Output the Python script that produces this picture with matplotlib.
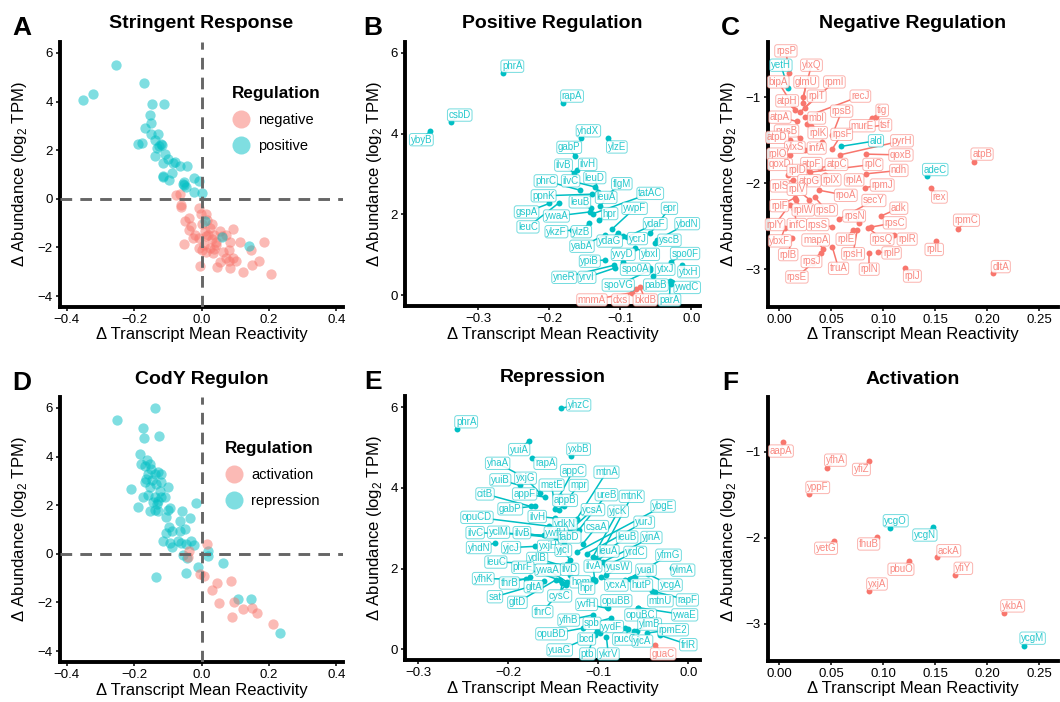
import numpy as np
import matplotlib.pyplot as plt
from matplotlib.lines import Line2D
from matplotlib.colors import to_rgba

plt.rcParams['font.family'] = ['Liberation Sans', 'DejaVu Sans']
plt.rcParams['mathtext.fontset'] = 'custom'
plt.rcParams['mathtext.rm'] = 'Liberation Sans'

RED = '#F8766D'
TEAL = '#00BFC4'
W, H = 1060, 702

# ---------------- Panel A: stringent response ----------------
A_pos_x = [-0.353, -0.323, -0.253, -0.171, -0.146, -0.110, -0.154, -0.151, -0.169, -0.149,
           -0.128, -0.189, -0.176, -0.137, -0.131, -0.121, -0.126, -0.137, -0.114, -0.099,
           -0.084, -0.079, -0.109, -0.065, -0.043, -0.089, -0.114, -0.097, -0.051, -0.051,
           -0.023, -0.008, -0.046, -0.023, 0.002, 0.010, 0.060, 0.141, -0.118, -0.113, -0.055]
A_pos_y = [4.07, 4.30, 5.52, 4.77, 3.89, 3.89, 3.44, 3.10, 2.93, 2.68,
           2.68, 2.27, 2.30, 2.41, 2.10, 2.24, 2.18, 1.78, 1.49, 1.65,
           1.47, 1.52, 1.85, 1.33, 1.34, 1.08, 0.93, 0.79, 0.68, 0.58,
           0.86, 0.75, 0.50, 0.30, 0.22, -0.91, -1.56, -1.95, 2.20, 0.88, 0.62]
A_neg_x = [-0.077, -0.063, -0.061, -0.060, -0.038, -0.048, -0.030, -0.038, -0.008, -0.002,
           0.012, 0.017, 0.024, 0.032, 0.010, -0.018, -0.025, -0.008, 0.014, 0.032,
           0.044, 0.054, 0.073, 0.093, 0.085, -0.053, 0.002, 0.014, 0.024, 0.034,
           0.038, 0.044, -0.003, 0.047, 0.054, 0.073, 0.083, 0.093, 0.085, 0.101,
           0.113, 0.083, 0.123, 0.148, 0.151, 0.171, 0.186, 0.206, 0.020, 0.002,
           0.060, 0.037, 0.007, -0.008, 0.064]
A_neg_y = [0.14, 0.19, -0.25, -0.33, -0.77, -0.91, -1.12, -1.30, -0.39, -0.64,
           -0.64, -0.89, -1.19, -1.02, -1.33, -1.47, -1.63, -1.63, -1.55, -1.67,
           -1.77, -1.33, -1.47, -1.26, -1.77, -1.85, -2.10, -2.19, -2.02, -2.23,
           -2.05, -1.91, -2.78, -2.82, -2.60, -2.43, -2.57, -2.43, -2.85, -2.57,
           -1.77, -2.09, -2.99, -2.09, -2.71, -2.54, -1.77, -3.08, -1.47, -1.05,
           -1.55, -1.47, -1.88, -2.02, -2.19]

# ---------------- Panel B: positive regulation ----------------
B_genes = ['phrA', 'rapA', 'csbD', 'ybyB', 'yhdX', 'ylzE', 'gabP', 'ilvH', 'ilvB', 'phrC',
           'ilvC', 'leuD', 'flgM', 'ppnK', 'leuA', 'tatAC', 'leuB', 'gspA', 'ywaA', 'hpr',
           'ywpF', 'epr', 'leuC', 'ykzF', 'ylzB', 'ydaF', 'ybdN', 'ycrJ', 'yscB', 'yabA',
           'ydaG', 'ybxI', 'spo0F', 'yvyD', 'ypiB', 'ytxH', 'ytxJ', 'spo0A', 'yneR', 'yrvI',
           'spoVG', 'pabB', 'ywdC', 'parA', 'mnmA', 'dxs', 'bkdB']
B_x = [-0.265, -0.181, -0.338, -0.368, -0.155, -0.118, -0.164, -0.161, -0.165, -0.157,
       -0.136, -0.131, -0.119, -0.140, -0.128, -0.138, -0.142, -0.200, -0.143, -0.130,
       -0.112, -0.058, -0.186, -0.168, -0.144, -0.091, -0.048, -0.096, -0.052, -0.122,
       -0.104, -0.080, -0.029, -0.097, -0.122, -0.014, -0.054, -0.058, -0.109, -0.108,
       -0.058, -0.028, -0.029, -0.030, -0.084, -0.078, -0.072]
B_y = [5.49, 4.75, 4.29, 4.06, 3.88, 3.89, 3.45, 3.09, 3.02, 2.60,
       2.68, 2.55, 2.48, 2.50, 2.20, 2.02, 2.15, 2.27, 2.06, 1.86,
       1.63, 1.53, 2.29, 1.61, 1.79, 1.44, 1.37, 1.47, 1.30, 1.49,
       1.54, 1.17, 0.82, 0.82, 0.87, 0.74, 0.47, 0.66, 0.74, 0.67,
       0.62, 0.33, 0.27, 0.36, 0.06, 0.14, 0.19]
B_reg = ['pos'] * 44 + ['neg'] * 3
# label placement (repelled text positions)
B_lx = [-0.252, -0.168, -0.326, -0.380, -0.145, -0.105, -0.172, -0.146, -0.180, -0.205,
        -0.170, -0.136, -0.098, -0.208, -0.120, -0.058, -0.157, -0.232, -0.190, -0.115,
        -0.080, -0.031, -0.230, -0.190, -0.155, -0.051, -0.006, -0.076, -0.031, -0.154,
        -0.115, -0.059, -0.009, -0.096, -0.143, -0.004, -0.037, -0.079, -0.179, -0.147,
        -0.103, -0.050, -0.006, -0.031, -0.140, -0.100, -0.065]
B_ly = [5.67, 4.93, 4.46, 3.85, 4.07, 3.67, 3.66, 3.24, 3.22, 2.83,
        2.83, 2.91, 2.76, 2.46, 2.42, 2.52, 2.31, 2.06, 1.96, 2.02,
        2.15, 2.15, 1.69, 1.57, 1.57, 1.77, 1.77, 1.40, 1.36, 1.21,
        1.34, 1.01, 1.03, 1.01, 0.84, 0.58, 0.64, 0.64, 0.44, 0.44,
        0.25, 0.25, 0.19, -0.12, -0.12, -0.12, -0.12]

# ---------------- Panel C: negative regulation ----------------
C_genes = ['rpsP', 'yetH', 'ylxQ', 'bipA', 'glmU', 'rpmI', 'atpH', 'rplT', 'recJ', 'atpA',
           'mbl', 'rpsB', 'tig', 'nusB', 'rplK', 'murE', 'tsf', 'rpsF', 'atpD', 'ald',
           'pyrH', 'ylxS', 'infA', 'rplO', 'qoxB', 'qoxD', 'atpF', 'atpC', 'rplC', 'atpB',
           'rplD', 'ndh', 'adeC', 'rplS', 'atpG', 'rplX', 'rplA', 'rpmJ', 'rex', 'rplV',
           'rpoA', 'rplF', 'rplW', 'rpsD', 'secY', 'adk', 'rpsN', 'rpsC', 'rpmC', 'rplY',
           'infC', 'rpsS', 'ybxF', 'mapA', 'rplE', 'rpsQ', 'rplR', 'rplL', 'rplB', 'rpsH',
           'rplP', 'rpsJ', 'truA', 'rplN', 'rplJ', 'dltA', 'rpsE']
C_x = [0.0095, 0.0086, 0.023, 0.013, 0.0226, 0.020, 0.015, 0.0245, 0.0245, 0.017,
       0.027, 0.051, 0.093, 0.020, 0.031, 0.089, 0.083, 0.051, 0.010, 0.0595,
       0.058, 0.0245, 0.041, 0.010, 0.083, 0.015, 0.027, 0.039, 0.030, 0.187,
       0.008, 0.083, 0.1425, 0.013, 0.037, 0.0436, 0.0655, 0.082, 0.146, 0.029,
       0.038, 0.015, 0.016, 0.034, 0.057, 0.098, 0.077, 0.088, 0.172, 0.010,
       0.014, 0.051, 0.0055, 0.042, 0.071, 0.0856, 0.110, 0.151, 0.012, 0.075,
       0.095, 0.040, 0.051, 0.0865, 0.121, 0.2055, 0.032]
C_y = [-0.72, -0.895, -0.99, -1.09, -1.07, -1.17, -1.15, -1.12, -1.23, -1.28,
       -1.31, -1.44, -1.23, -1.47, -1.33, -1.24, -1.35, -1.60, -1.50, -1.57,
       -1.67, -1.61, -1.52, -1.67, -1.66, -1.82, -1.85, -1.82, -1.87, -1.75,
       -1.90, -1.89, -1.92, -1.96, -1.94, -1.90, -1.94, -2.05, -2.06, -2.19,
       -2.08, -2.17, -2.20, -2.16, -2.42, -2.38, -2.465, -2.51, -2.535, -2.25,
       -2.30, -2.505, -2.52, -2.76, -2.54, -2.52, -2.60, -2.67, -2.64, -2.54,
       -2.80, -2.81, -2.74, -2.81, -2.99, -3.04, -2.93]
C_reg = ['neg'] * len(C_genes)
for i in (1, 19, 32):
    C_reg[i] = 'pos'
C_lx = [0.0064, 0.0016, 0.031, -0.001, 0.026, 0.053, 0.0076, 0.036, 0.078, 0.0007,
        0.036, 0.060, 0.099, 0.007, 0.037, 0.080, 0.102, 0.060, -0.002, 0.093,
        0.118, 0.015, 0.036, -0.002, 0.117, 0.0007, 0.031, 0.055, 0.090, 0.195,
        0.017, 0.115, 0.150, 0.0007, 0.029, 0.050, 0.072, 0.099, 0.154, 0.017,
        0.064, 0.000, 0.023, 0.045, 0.091, 0.115, 0.072, 0.111, 0.180, -0.004,
        0.017, 0.037, 0.0007, 0.035, 0.064, 0.099, 0.123, 0.149, 0.0086, 0.071,
        0.108, 0.031, 0.057, 0.0865, 0.128, 0.213, 0.017]
C_ly = [-0.458, -0.625, -0.625, -0.82, -0.82, -0.82, -1.04, -0.985, -0.985, -1.23,
        -1.24, -1.16, -1.15, -1.39, -1.41, -1.33, -1.32, -1.43, -1.465, -1.505,
        -1.505, -1.58, -1.59, -1.66, -1.67, -1.78, -1.77, -1.78, -1.78, -1.66,
        -1.85, -1.85, -1.84, -2.03, -1.97, -1.96, -1.96, -2.02, -2.16, -2.07,
        -2.14, -2.26, -2.31, -2.31, -2.20, -2.29, -2.38, -2.46, -2.43, -2.48,
        -2.48, -2.48, -2.67, -2.66, -2.65, -2.65, -2.65, -2.77, -2.83, -2.82,
        -2.81, -2.91, -2.99, -3.00, -3.08, -2.97, -3.09]

# ---------------- Panel D: CodY regulon ----------------
D_rep_x = [-0.252, -0.137, -0.174, -0.171, -0.127, -0.182, -0.161, -0.179, -0.169, -0.154,
           -0.149, -0.139, -0.129, -0.119, -0.164, -0.147, -0.154, -0.169, -0.134, -0.119,
           -0.099, -0.210, -0.174, -0.159, -0.139, -0.129, -0.119, -0.131, -0.109, -0.189,
           -0.154, -0.139, -0.129, -0.099, -0.094, -0.058, -0.016, -0.104, -0.033, -0.063,
           -0.097, -0.089, -0.104, -0.063, -0.048, -0.114, -0.094, -0.089, -0.069, -0.061,
           -0.046, -0.030, -0.023, -0.055, -0.043, -0.046, -0.134, -0.010, 0.020, 0.020,
           0.065, 0.108, 0.148, 0.234, -0.144, -0.124, -0.158]
D_rep_y = [5.52, 6.00, 5.19, 4.76, 4.83, 4.09, 3.87, 3.70, 3.63, 3.70,
           3.49, 3.29, 3.35, 3.29, 3.08, 3.02, 2.74, 2.94, 2.87, 2.94,
           2.74, 2.67, 2.32, 2.43, 2.32, 2.19, 2.32, 2.05, 2.35, 1.94,
           1.77, 1.80, 1.77, 1.80, 1.88, 1.77, 2.08, 1.50, 1.47, 1.33,
           1.11, 0.95, 0.84, 0.92, 1.02, 0.54, 0.43, 0.29, 0.54, 0.43,
           0.40, 0.51, 0.36, -0.04, -0.18, -0.77, -0.95, -0.54, 0.10, -0.08,
           -0.36, -1.87, -1.87, -3.25, 2.15, 2.60, 3.30]
D_act_x = [-0.036, -0.040, 0.017, -0.003, 0.007, 0.030, 0.047, 0.088, 0.052, 0.096,
           0.091, 0.123, 0.150, 0.166, 0.212]
D_act_y = [0.10, -0.12, 0.40, -0.81, -0.91, -1.50, -1.18, -1.11, -2.04, -1.97,
           -2.60, -2.26, -2.21, -2.42, -2.87]

# ---------------- Panel E: repression ----------------
E_genes = ['yhzC', 'phrA', 'yuiA', 'yxbB', 'rapA', 'yhaA', 'appC', 'mtnA', 'yuiB', 'yxjG',
           'metE', 'mpr', 'citB', 'appF', 'appB', 'ureB', 'mtnK', 'gabP', 'ilvH', 'ycsA',
           'yjcK', 'ybgE', 'opuCD', 'ydkN', 'csaA', 'yurJ', 'ilvC', 'yclM', 'ilvB', 'ywfH',
           'fabD', 'leuB', 'yjnA', 'yhdN', 'yjcJ', 'yxjH', 'yjcI', 'leuA', 'yrdC', 'yfmG',
           'leuC', 'ydlB', 'phrF', 'ywaA', 'ilvD', 'ilvA', 'yusW', 'yuaI', 'ylmA', 'yfhK',
           'thrB', 'gltA', 'sat', 'gltD', 'cysC', 'thrC', 'hom', 'hpr', 'ycxA', 'hutP',
           'ycgA', 'mtnU', 'rapF', 'yvfH', 'opuBB', 'opuBC', 'ywaE', 'yfhB', 'spb', 'yydF',
           'ylmB', 'rpmE2', 'opuBD', 'bcd', 'pucG', 'yjcA', 'frlR', 'yuaG', 'ptb', 'ykrV',
           'guaC']
E_x = [-0.141, -0.257, -0.177, -0.130, -0.174, -0.188, -0.143, -0.124, -0.187, -0.165,
       -0.148, -0.144, -0.175, -0.159, -0.138, -0.122, -0.095, -0.170, -0.148, -0.128,
       -0.106, -0.124, -0.155, -0.132, -0.117, -0.113, -0.160, -0.147, -0.140, -0.142,
       -0.138, -0.104, -0.095, -0.215, -0.170, -0.142, -0.131, -0.100, -0.091, -0.065,
       -0.135, -0.137, -0.143, -0.135, -0.131, -0.104, -0.091, -0.070, -0.018, -0.180,
       -0.176, -0.160, -0.165, -0.147, -0.140, -0.136, -0.106, -0.104, -0.097, -0.059,
       -0.045, -0.037, -0.040, -0.089, -0.090, -0.056, -0.056, -0.106, -0.086, -0.070,
       -0.057, -0.046, -0.117, -0.102, -0.067, -0.060, -0.031, -0.098, -0.104, -0.091,
       -0.037]
E_y = [5.98, 5.47, 5.17, 4.80, 4.74, 4.33, 3.81, 3.23, 4.06, 3.87,
       3.48, 3.44, 3.54, 3.77, 3.55, 2.95, 2.45, 3.55, 3.25, 3.02,
       2.29, 2.41, 3.05, 2.90, 2.62, 2.37, 2.83, 2.76, 2.72, 2.98,
       2.60, 2.25, 2.16, 2.63, 2.55, 2.45, 2.20, 2.20, 2.08, 1.75,
       2.10, 2.05, 1.71, 1.67, 1.85, 1.71, 1.83, 1.72, 2.02, 1.73,
       1.78, 1.69, 1.62, 1.72, 1.65, 1.60, 1.75, 1.69, 1.78, 1.79,
       1.86, 1.42, 1.44, 1.01, 1.05, 1.01, 1.03, 0.85, 0.77, 0.52,
       0.45, 0.40, 0.52, 0.44, 0.50, 0.46, 0.34, 0.40, 0.35, 0.29,
       0.11]
E_reg = ['pos'] * 80 + ['neg']
E_lx = [-0.122, -0.247, -0.188, -0.122, -0.159, -0.212, -0.128, -0.091, -0.209, -0.181,
        -0.152, -0.122, -0.226, -0.182, -0.137, -0.091, -0.063, -0.198, -0.168, -0.106,
        -0.078, -0.028, -0.235, -0.137, -0.102, -0.049, -0.237, -0.211, -0.185, -0.147,
        -0.132, -0.068, -0.041, -0.233, -0.197, -0.156, -0.139, -0.089, -0.059, -0.022,
        -0.214, -0.168, -0.184, -0.156, -0.132, -0.106, -0.078, -0.047, -0.006, -0.228,
        -0.199, -0.172, -0.215, -0.190, -0.143, -0.162, -0.120, -0.113, -0.080, -0.052,
        -0.020, -0.031, -0.001, -0.113, -0.080, -0.053, -0.004, -0.133, -0.107, -0.085,
        -0.043, -0.017, -0.152, -0.113, -0.070, -0.051, 0.000, -0.143, -0.112, -0.089,
        -0.028]
E_ly = [6.06, 5.64, 4.95, 4.96, 4.61, 4.61, 4.43, 4.39, 4.20, 4.24,
        4.07, 4.06, 3.85, 3.85, 3.69, 3.83, 3.79, 3.48, 3.29, 3.46,
        3.42, 3.55, 3.27, 3.11, 3.04, 3.15, 2.89, 2.90, 2.89, 2.89,
        2.78, 2.78, 2.77, 2.52, 2.52, 2.55, 2.45, 2.43, 2.40, 2.33,
        2.16, 2.25, 2.03, 1.96, 1.98, 2.06, 2.03, 1.96, 1.96, 1.75,
        1.64, 1.55, 1.30, 1.16, 1.32, 0.93, 1.67, 1.51, 1.59, 1.59,
        1.59, 1.20, 1.22, 1.11, 1.20, 0.85, 0.85, 0.72, 0.64, 0.56,
        0.62, 0.48, 0.38, 0.25, 0.25, 0.20, 0.11, -0.02, -0.12, -0.12,
        -0.12]

# ---------------- Panel F: activation ----------------
F_genes = ['aapA', 'yfhA', 'yfiZ', 'yppF', 'ycgO', 'ycgN', 'yetG', 'fhuB', 'ackA', 'pbuO',
           'yfiY', 'yxjA', 'ykbA', 'ycgM']
F_x = [0.004, 0.046, 0.0865, 0.0288, 0.1067, 0.148, 0.0522, 0.094, 0.152, 0.125,
       0.169, 0.0859, 0.2157, 0.2349]
F_y = [-0.884, -1.186, -1.108, -1.494, -1.88, -1.87, -2.03, -1.986, -2.218, -2.268,
       -2.43, -2.616, -2.87, -3.25]
F_reg = ['neg', 'neg', 'neg', 'neg', 'pos', 'pos', 'neg', 'neg', 'neg', 'neg',
         'neg', 'neg', 'neg', 'pos']
F_lx = [0.0016, 0.054, 0.079, 0.037, 0.112, 0.140, 0.045, 0.086, 0.163, 0.117,
        0.177, 0.094, 0.2244, 0.2436]
F_ly = [-0.99, -1.096, -1.204, -1.413, -1.80, -1.966, -2.12, -2.07, -2.148, -2.364,
        -2.353, -2.535, -2.79, -3.165]


fig = plt.figure(figsize=(W / 100, H / 100), dpi=100)


def px_box(l, t, r, b):
    return [l / W, 1 - b / H, (r - l) / W, (b - t) / H]


def fx(x):
    return x / W


def fy(y):
    return 1 - y / H


def minus(s):
    return s.replace('-', '\u2212')


def style(ax, xlim, ylim, xticks, yticks, xfmt):
    ax.set_xlim(xlim)
    ax.set_ylim(ylim)
    ax.set_xticks(xticks)
    ax.set_yticks(yticks)
    ax.set_xticklabels([minus(xfmt.format(v)) for v in xticks])
    ax.set_yticklabels([minus('{:g}'.format(v)) for v in yticks])
    for s in ('top', 'right'):
        ax.spines[s].set_visible(False)
    for s in ('left', 'bottom'):
        ax.spines[s].set_linewidth(2.8)
    ax.tick_params(direction='out', length=2.6, width=1.1, pad=2.5,
                   labelsize=9.5, colors='black')
    ax.set_facecolor('none')


def labelled(ax, genes, xs, ys, reg, lxs, lys):
    for g, x, y, r, lx, ly in zip(genes, xs, ys, reg, lxs, lys):
        c = TEAL if r == 'pos' else RED
        ax.plot([x, lx], [y, ly], color=c, lw=1.1, zorder=2, solid_capstyle='butt')
        ax.scatter([x], [y], s=18, color=c, lw=0, zorder=3)
        ax.text(lx, ly, g, fontsize=7, color=to_rgba(c, 0.85), ha='center', va='center',
                zorder=4,
                bbox=dict(boxstyle='round,pad=0.12,rounding_size=0.25',
                          fc=(1, 1, 1, 0.9), ec=to_rgba(c, 0.55), lw=0.7))


def quad(ax):
    ax.axvline(0, color='#666666', lw=2.1, ls=(0, (4.0, 2.8)), zorder=3)
    ax.axhline(0, color='#666666', lw=2.1, ls=(0, (4.0, 2.8)), zorder=3)


def legend(ax, labels, anchor):
    hs = [Line2D([], [], marker='o', ls='', color=c, alpha=0.5, markersize=13,
                 markeredgewidth=0, label=l) for c, l in zip([RED, TEAL], labels)]
    leg = ax.legend(handles=hs, title='Regulation', loc='upper left', bbox_to_anchor=anchor,
                    frameon=False, fontsize=10.5, handlelength=1.2, handletextpad=0.6,
                    labelspacing=0.82, borderpad=0, borderaxespad=0,
                    title_fontproperties={'weight': 'bold', 'size': 12.3})
    leg._legend_box.align = 'left'


YLAB = 'Δ Abundance (log$_\\mathregular{2}$ TPM)'
XLAB = 'Δ Transcript Mean Reactivity'

# A
axA = fig.add_axes(px_box(60, 42, 343, 307))
style(axA, (-0.42, 0.42), (-4.45, 6.45), [-0.4, -0.2, 0.0, 0.2, 0.4], [-4, -2, 0, 2, 4, 6], '{:.1f}')
axA.scatter(A_neg_x, A_neg_y, s=55, color=RED, alpha=0.5, lw=0, zorder=2)
axA.scatter(A_pos_x, A_pos_y, s=55, color=TEAL, alpha=0.5, lw=0, zorder=2)
quad(axA)
legend(axA, ['negative', 'positive'], (0.608, 0.834))

# B
axB = fig.add_axes(px_box(405, 42, 700, 306))
style(axB, (-0.403, 0.012), (-0.27, 6.27), [-0.3, -0.2, -0.1, 0.0], [0, 2, 4, 6], '{:.1f}')
labelled(axB, B_genes, B_x, B_y, B_reg, B_lx, B_ly)

# C
axC = fig.add_axes(px_box(768, 42, 1058, 307))
style(axC, (-0.0108, 0.268), (-3.44, -0.355), [0, 0.05, 0.10, 0.15, 0.20, 0.25], [-3, -2, -1], '{:.2f}')
labelled(axC, C_genes, C_x, C_y, C_reg, C_lx, C_ly)

# D
axD = fig.add_axes(px_box(60, 397, 343, 662))
style(axD, (-0.42, 0.42), (-4.45, 6.45), [-0.4, -0.2, 0.0, 0.2, 0.4], [-4, -2, 0, 2, 4, 6], '{:.1f}')
axD.scatter(D_rep_x, D_rep_y, s=55, color=TEAL, alpha=0.5, lw=0, zorder=2)
axD.scatter(D_act_x, D_act_y, s=55, color=RED, alpha=0.5, lw=0, zorder=2)
quad(axD)
legend(axD, ['activation', 'repression'], (0.583, 0.834))

# E
axE = fig.add_axes(px_box(405, 396, 700, 660))
style(axE, (-0.315, 0.013), (-0.27, 6.28), [-0.3, -0.2, -0.1, 0.0], [0, 2, 4, 6], '{:.1f}')
labelled(axE, E_genes, E_x, E_y, E_reg, E_lx, E_ly)

# F
axF = fig.add_axes(px_box(768, 397, 1058, 661))
style(axF, (-0.0108, 0.268), (-3.43, -0.362), [0, 0.05, 0.10, 0.15, 0.20, 0.25], [-3, -2, -1], '{:.2f}')
labelled(axF, F_genes, F_x, F_y, F_reg, F_lx, F_ly)

# titles, panel letters and axis titles (letter offset, y-label offset from left spine)
panels = [('A', 'Stringent Response', 60, 343, 42, 307, 38, 40),
          ('B', 'Positive Regulation', 405, 700, 42, 306, 32, 31),
          ('C', 'Negative Regulation', 768, 1058, 42, 307, 38, 40),
          ('D', 'CodY Regulon', 60, 343, 397, 662, 38, 40),
          ('E', 'Repression', 405, 700, 396, 660, 32, 31),
          ('F', 'Activation', 768, 1058, 397, 661, 38, 40)]
for letter, title, l, r, t, b, dl, dy in panels:
    fig.text(fx(l - dl), fy(t - 14), letter, fontsize=19, fontweight='bold', ha='center', va='center')
    fig.text(fx((l + r) / 2), fy(t - 18), title, fontsize=14, fontweight='bold',
             ha='center', va='center')
    fig.text(fx((l + r) / 2), fy(b + 28), XLAB, fontsize=12, ha='center', va='center')
    fig.text(fx(l - dy), fy((t + b) / 2), YLAB, fontsize=12, rotation=90, ha='center', va='center')

fig.savefig('out.png', dpi=100)
